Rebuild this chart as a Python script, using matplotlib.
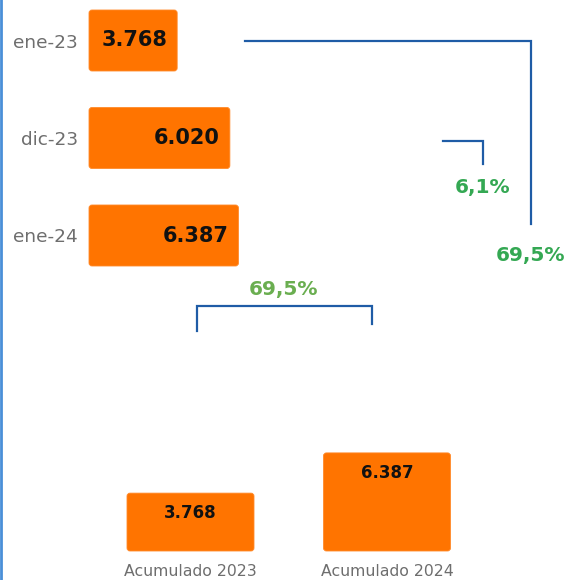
import numpy as np
import matplotlib
matplotlib.use("Agg")
import matplotlib.pyplot as plt
from matplotlib.patches import FancyBboxPatch

# ---- data ----
months = ["ene-23", "dic-23", "ene-24"]
month_values = [3768, 6020, 6387]
acc_labels = ["Acumulado 2023", "Acumulado 2024"]
acc_values = [3768, 6387]

ORANGE = "#ff7400"
BLUE = "#1f5ca6"
GREEN = "#34a853"
GREEN2 = "#6aae50"
GRAY = "#6e6e6e"

W, H = 569, 580
fig = plt.figure(figsize=(W / 100, H / 100), dpi=100)
fig.patch.set_facecolor("white")

def fmt_num(v):
    return f"{v:,}".replace(",", ".")

def fmt_pct(p):
    return f"{p:.1f}".replace(".", ",") + "%"

# ---- top horizontal bars ----
top_px = 290
ax1 = fig.add_axes([89 / W, (H - top_px) / H, (W - 89) / W, top_px / H])
px_per_unit = 0.0234
spacing = 97.5
ax1.set_xlim(0, (W - 89) / px_per_unit)
y0 = -40.5 / spacing
ax1.set_ylim(y0 + top_px / spacing, y0)
ypos = np.arange(len(months))
bars1 = ax1.barh(ypos, month_values, height=61 / spacing, color=ORANGE, edgecolor="none")
for y, v in zip(ypos, month_values):
    ax1.annotate(fmt_num(v), (v, y), xytext=(-10, 0), textcoords="offset pixels",
                 ha="right", va="center", fontsize=15, fontweight="bold", color="#111111",
                 zorder=10)
ax1.set_yticks(ypos)
ax1.set_yticklabels(months, fontsize=13.3, color=GRAY)
ax1.tick_params(axis="y", length=0, pad=8)
ax1.set_xticks([])
for s in ax1.spines.values():
    s.set_visible(False)
ax1.patch.set_alpha(0)

# ---- bottom vertical bars ----
base_px = 551
ax_top_px = 300
ax2 = fig.add_axes([0, (H - base_px) / H, 1, (base_px - ax_top_px) / H])
xsp = 196.5
ax2.set_xlim(-190.5 / xsp, (W - 190.5) / xsp)
vpx = 0.01536
ax2.set_ylim(0, (base_px - ax_top_px) / vpx)
xpos = np.arange(len(acc_labels))
bars2 = ax2.bar(xpos, acc_values, width=127 / xsp, color=ORANGE, edgecolor="none")
for x, v in zip(xpos, acc_values):
    ax2.annotate(fmt_num(v), (x, v), xytext=(0, -20), textcoords="offset pixels",
                 ha="center", va="center", fontsize=12, fontweight="bold", color="#111111",
                 zorder=10)
ax2.set_xticks(xpos)
ax2.set_xticklabels(acc_labels, fontsize=11.3, color=GRAY)
ax2.tick_params(axis="x", length=0, pad=9)
ax2.set_yticks([])
for s in ax2.spines.values():
    s.set_visible(False)
ax2.patch.set_alpha(0)

# ---- overlay for brackets ----
ov = fig.add_axes([0, 0, 1, 1], zorder=-1)
ov.set_xlim(0, W)
ov.set_ylim(H, 0)
ov.axis("off")
ov.patch.set_alpha(0)

# rounded versions of the bars (same geometry as the library's bars)
fig.canvas.draw()
for b in list(bars1) + list(bars2):
    ext = b.get_window_extent()
    x0, x1 = ext.x0, ext.x1
    ytop, ybot = H - ext.y1, H - ext.y0
    b.set_visible(False)
    r = 3
    ov.add_patch(FancyBboxPatch((x0 + r, ytop + r), (x1 - x0) - 2 * r, (ybot - ytop) - 2 * r,
                                boxstyle=f"round,pad={r}", facecolor=ORANGE,
                                edgecolor="#ff8a2a", lw=0.6))

lw = 1.6
pct_year = (month_values[2] / month_values[0] - 1) * 100
pct_month = (month_values[2] / month_values[1] - 1) * 100
pct_acc = (acc_values[1] / acc_values[0] - 1) * 100

ov2 = fig.add_axes([0, 0, 1, 1], zorder=5)
ov2.set_xlim(0, W)
ov2.set_ylim(H, 0)
ov2.axis("off")
ov2.patch.set_alpha(0)

ov2.plot([245, 531, 531], [41, 41, 224], color=BLUE, lw=lw, solid_joinstyle="miter")
ov2.text(531, 256, fmt_pct(pct_year), ha="center", va="center", fontsize=14.5,
         fontweight="bold", color=GREEN)
ov2.plot([443, 483, 483], [141, 141, 164], color=BLUE, lw=lw, solid_joinstyle="miter")
ov2.text(483, 187, fmt_pct(pct_month), ha="center", va="center", fontsize=14.5,
         fontweight="bold", color=GREEN)
ov2.plot([197, 197, 372, 372], [331, 306, 306, 324], color=BLUE, lw=lw, solid_joinstyle="miter")
ov2.text(284, 289, fmt_pct(pct_acc), ha="center", va="center", fontsize=14.5,
         fontweight="bold", color=GREEN2)

# left blue edge line
ov2.plot([1, 1], [0, H], color="#4a8fd8", lw=2)

fig.savefig("out.png", dpi=100, facecolor="white")
